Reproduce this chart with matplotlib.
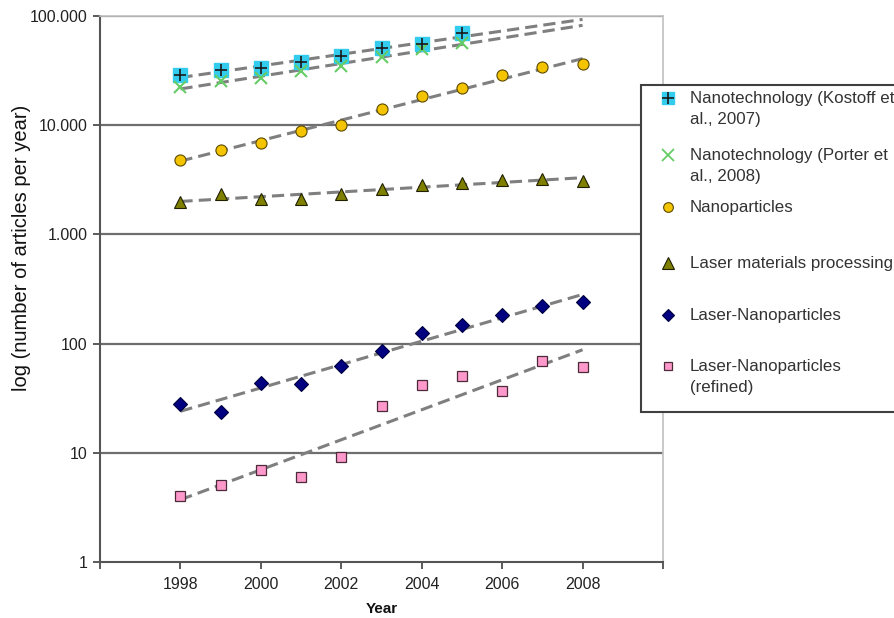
import numpy as np
import matplotlib
matplotlib.use("Agg")
import matplotlib.pyplot as plt
from matplotlib.lines import Line2D
from matplotlib.patches import Rectangle

plt.rcParams['font.family'] = ['Liberation Sans', 'DejaVu Sans']

years = [1998, 1999, 2000, 2001, 2002, 2003, 2004, 2005, 2006, 2007, 2008]
years_nano = [1998, 1999, 2000, 2001, 2002, 2003, 2004, 2005]

kostoff = [28700, 32000, 33300, 37600, 43200, 50500, 55300, 69300]
porter = [22200, 25500, 27000, 31100, 35000, 41800, 49800, 56100]
nanoparticles = [4800, 5900, 6940, 8870, 10000, 14200, 18600, 21700, 28700, 33800, 36300]
laser_mat = [1995, 2330, 2094, 2125, 2360, 2590, 2830, 2980, 3130, 3200, 3080]
laser_nano = [28, 23.8, 43.6, 42.7, 63, 85, 124, 147, 182, 220, 241]
laser_nano_ref = [4.0, 5.1, 7.0, 6.0, 9.1, 26.6, 41.5, 50, 37, 68.8, 61]

labels = ["Nanotechnology (Kostoff et\nal., 2007)",
          "Nanotechnology (Porter et\nal., 2008)",
          "Nanoparticles",
          "Laser materials processing",
          "Laser-Nanoparticles",
          "Laser-Nanoparticles\n(refined)"]

xticks = [1996, 1998, 2000, 2002, 2004, 2006, 2008, 2010]
xticklabels = ["", "1998", "2000", "2002", "2004", "2006", "2008", ""]
yticks = [1, 10, 100, 1000, 10000, 100000]
yticklabels = ["1", "10", "100", "1.000", "10.000", "100.000"]

W, H = 894, 618
fig = plt.figure(figsize=(W / 100, H / 100), dpi=100)
ax = fig.add_axes([100 / W, 1 - 562 / H, (663 - 100) / W, (562 - 16) / H])
ax.set_yscale('log')
ax.set_ylim(1, 100000)
ax.set_xlim(1996, 2010)

grid_c = '#6e6e6e'
for y in yticks[1:]:
    ax.axhline(y, color=grid_c, lw=1.6, zorder=1)


def trend(xs, ys, x_end):
    c = np.polyfit(xs, np.log(ys), 1)
    xx = np.linspace(xs[0], x_end, 50)
    ax.plot(xx, np.exp(np.polyval(c, xx)), color='#7f7f7f', lw=2.2,
            ls=(0, (4, 2)), zorder=3)


trend(years_nano, kostoff, 2008)
trend(years_nano, porter, 2008)
trend(years, nanoparticles, 2008)
trend(years, laser_mat, 2008)
trend(years, laser_nano, 2008)
trend(years, laser_nano_ref, 2008)

ms = 8
ax.plot(years_nano, kostoff, 's', color='#33ccee', ms=10, mec='#33ccee', zorder=4)
ax.plot(years_nano, kostoff, '+', color='#1a1a1a', ms=8, mew=1.2, zorder=5)
ax.plot(years_nano, porter, 'x', color='#66cc66', ms=9, mew=1.5, zorder=4)
ax.plot(years, nanoparticles, 'o', color='#f5c400', mec='#5a4a00', ms=ms, mew=0.8, zorder=4)
ax.plot(years, laser_mat, '^', color='#7f7f00', mec='#202000', ms=9, mew=0.8, zorder=4)
ax.plot(years, laser_nano, 'D', color='#000080', mec='#000040', ms=7, mew=0.8, zorder=4)
ax.plot(years, laser_nano_ref, 's', color='#ff99cc', mec='#4d2a3a', ms=7, mew=0.9, zorder=4)

ax.set_xticks(xticks)
ax.set_xticklabels(xticklabels)
ax.set_yticks(yticks)
ax.set_yticklabels(yticklabels)
ax.yaxis.set_minor_locator(matplotlib.ticker.NullLocator())
ax.tick_params(axis='both', labelsize=11.5, colors='#404040', labelcolor='#222222',
               length=5, width=1.2, direction='out')
ax.tick_params(axis='x', pad=6)
ax.tick_params(axis='y', pad=4)

for s in ['left', 'bottom']:
    ax.spines[s].set_color('#555555')
    ax.spines[s].set_linewidth(1.5)
for s in ['top', 'right']:
    ax.spines[s].set_color('#c0c0c0')
    ax.spines[s].set_linewidth(1.2)

ax.set_ylabel('log (number of articles per year)', fontsize=14.5, color='#111111')
ax.yaxis.set_label_coords((31 - 100) / (663 - 100), (562 - 248) / (562 - 16))
ax.set_xlabel('Year', fontsize=11, fontweight='bold', color='#111111', labelpad=7)

# legend box (drawn in figure pixels)
def fx(px):
    return px / W


def fy(py):
    return 1 - py / H


fig.add_artist(Rectangle((fx(641), fy(412)), fx(900) - fx(641), fy(85) - fy(412),
                         transform=fig.transFigure, fill=True, fc='white',
                         ec='#404040', lw=1.5, clip_on=False, zorder=10))
entry_y = [98, 155, 207, 263, 315, 366]
mx = 668
tx = 690
handles = [
    [dict(marker='s', color='#33ccee', ms=9, mec='#33ccee'), dict(marker='+', color='#1a1a1a', ms=8, mew=1.2)],
    [dict(marker='x', color='#66cc66', ms=8, mew=1.3)],
    [dict(marker='o', color='#f5c400', mec='#5a4a00', ms=7, mew=0.8)],
    [dict(marker='^', color='#7f7f00', mec='#202000', ms=8, mew=0.8)],
    [dict(marker='D', color='#000080', mec='#000040', ms=6, mew=0.8)],
    [dict(marker='s', color='#ff99cc', mec='#4d2a3a', ms=6, mew=0.9)],
]
for yv, lab, hs in zip(entry_y, labels, handles):
    for h in hs:
        fig.add_artist(Line2D([fx(mx)], [fy(yv)], transform=fig.transFigure,
                              ls='none', zorder=11, **h))
    fig.text(fx(tx), fy(yv - 7), lab, fontsize=12.2, color='#333333', va='top',
             ha='left', linespacing=1.5, zorder=12,
             transform=fig.transFigure)

fig.savefig('out.png', dpi=100)
